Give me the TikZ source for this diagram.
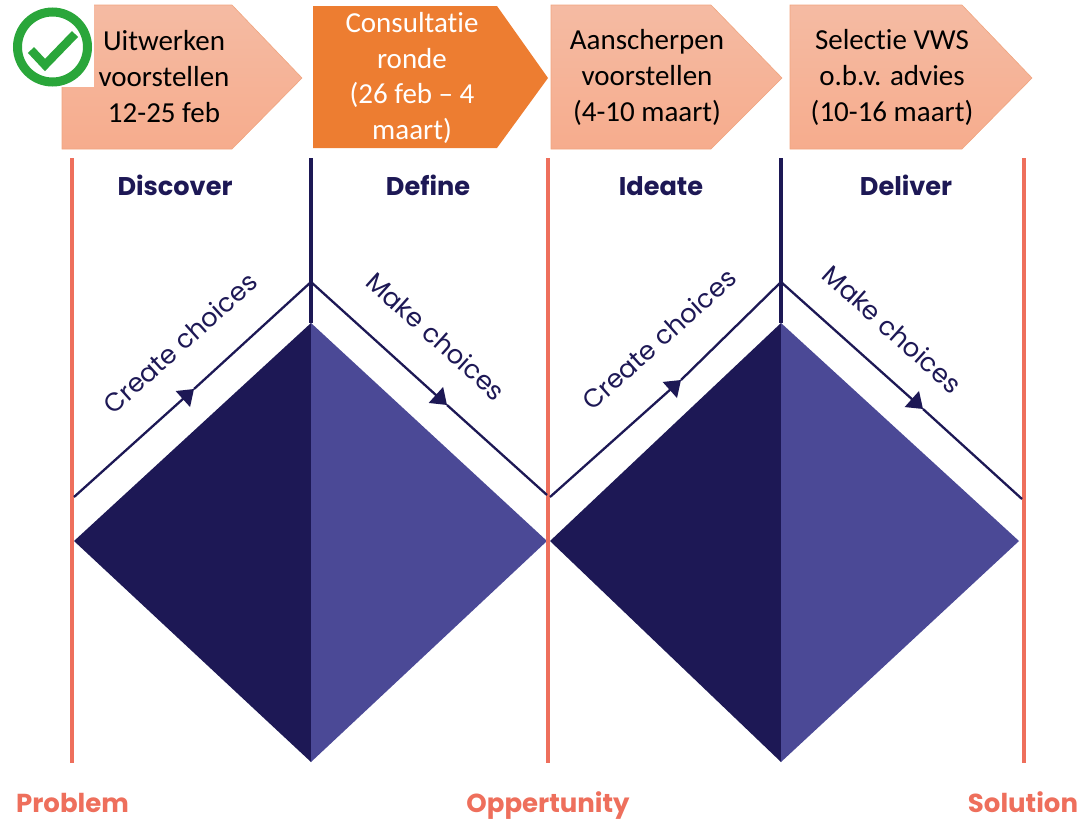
\documentclass[tikz,border=0pt]{standalone}
\usepackage{fontspec}
\setmainfont[Ligatures=NoCommon]{Carlito}
\newfontfamily\pop{Poppins}
\usetikzlibrary{arrows.meta}
\definecolor{navy}{HTML}{1D1855}
\definecolor{violet}{HTML}{4B4996}
\definecolor{coral}{HTML}{EE6F5C}
\definecolor{peachtop}{HTML}{F5BBA3}
\definecolor{peachbot}{HTML}{F6AC8D}
\definecolor{peachline}{HTML}{F0A57F}
\definecolor{orangef}{HTML}{ED7D31}
\definecolor{okgreen}{HTML}{2AA63A}
\tikzset{
 x=1pt,y=-1pt,
 stage/.style={top color=peachtop,bottom color=peachbot,draw=peachline,line width=.6pt},
 stagetext/.style={font=\fontsize{29}{36}\selectfont,align=center,text=black,inner sep=0pt},
 redline/.style={draw=coral,line width=3.2pt},
 navyline/.style={draw=navy,line width=3.2pt},
 slope/.style={draw=navy,line width=2.3pt},
 tipped/.style={slope,-{Triangle[length=15pt,width=21pt]}},
 phase/.style={font=\pop\bfseries\fontsize{25.6}{28}\selectfont,text=navy,inner sep=0pt,anchor=base},
 outcome/.style={font=\pop\bfseries\fontsize{26}{28}\selectfont,text=coral,inner sep=0pt,anchor=base},
 slabel/.style={font=\pop\fontsize{25.8}{28}\selectfont,text=navy,inner sep=0pt},
}
\begin{document}
\begin{tikzpicture}
\useasboundingbox (0,0) rectangle (1084,820);
% stage arrows
\path[stage] (62,5) -- (232,5) -- (302,78) -- (232,149) -- (62,149) -- cycle;
\fill[white] (0,0) rectangle (94,87);
\path[fill=orangef] (313,6) -- (497,6) -- (548,78) -- (497,148) -- (313,148) -- cycle;
\path[stage] (551,5) -- (711,5) -- (782,78) -- (711,149) -- (551,149) -- cycle;
\path[stage] (790,5) -- (962,5) -- (1032,78) -- (962,149) -- (790,149) -- cycle;
\node[stagetext] (s1) at (164,77) {Uitwerken\\voorstellen\\12-25 feb};
\node[stagetext,text=white,font=\fontsize{29}{35.7}\selectfont] (s2) at (412,78) {Consultatie\\ronde\\(26 feb -- 4\\maart)};
\node[stagetext] (s3) at (647,77) {Aanscherpen\\voorstellen\\(4-10 maart)};
\node[stagetext] (s4) at (892,77) {Selectie VWS\\o.b.v. advies\\(10-16 maart)};
% check badge
\node[draw=okgreen,line width=9pt,circle,minimum size=70pt,inner sep=0pt] (badge) at (52.5,47) {};
\draw[okgreen,line width=8.5pt] (31,50) -- (45,65) -- (75,34);
% diamonds
\coordinate (d1l) at (74,541); \coordinate (d1t) at (311,323); \coordinate (d1b) at (311,762); \coordinate (d1r) at (547,541);
\coordinate (d2l) at (550,541); \coordinate (d2t) at (781,323); \coordinate (d2b) at (781,762); \coordinate (d2r) at (1019,541);
\fill[navy] (d1l) -- (d1t) -- (d1b) -- cycle;
\fill[violet] (d1t) -- (d1r) -- (d1b) -- cycle;
\fill[navy] (d2l) -- (d2t) -- (d2b) -- cycle;
\fill[violet] (d2t) -- (d2r) -- (d2b) -- cycle;
% verticals
\coordinate (r1t) at (72,158); \coordinate (r1b) at (72,763);
\coordinate (n1t) at (311,158);
\coordinate (r2t) at (548,158); \coordinate (r2b) at (548,763);
\coordinate (n2t) at (781,158);
\coordinate (r3t) at (1024,158); \coordinate (r3b) at (1024,763);
\draw[redline] (r1t) -- (r1b);
\draw[redline] (r2t) -- (r2b);
\draw[redline] (r3t) -- (r3b);
\draw[navyline] (n1t) -- (d1t);
\draw[navyline] (n2t) -- (d2t);
% slopes
\coordinate (a1) at (74,497); \coordinate (m1) at (194,389); \coordinate (p1) at (311,282);
\coordinate (m2) at (447,405); \coordinate (e2) at (547,495);
\coordinate (a2) at (550,497); \coordinate (m3) at (681,380); \coordinate (p2) at (781,282);
\coordinate (m4) at (923,409); \coordinate (e4) at (1022,499);
\draw[tipped] (a1) -- (m1); \draw[slope] (m1) -- (p1);
\draw[tipped] (p1) -- (m2); \draw[slope] (m2) -- (e2);
\draw[tipped] (a2) -- (m3); \draw[slope] (m3) -- (p2);
\draw[tipped] (p2) -- (m4); \draw[slope] (m4) -- (e4);
% labels
\node[phase] (l1) at (175,195) {Discover};
\node[phase] (l2) at (428,195) {Define};
\node[phase] (l3) at (661,195) {Ideate};
\node[phase] (l4) at (906,195) {Deliver};
\node[slabel,rotate=42] (c1) at (180,343) {Create choices};
\node[slabel,rotate=-42] (c2) at (436,336) {Make choices};
\node[slabel,rotate=42] (c3) at (659,339) {Create choices};
\node[slabel,rotate=-42] (c4) at (892.5,329) {Make choices};
\node[outcome] (o1) at (72.5,812) {Problem};
\node[outcome] (o2) at (548,812) {Oppertunity};
\node[outcome] (o3) at (1023,812) {Solution};
\end{tikzpicture}
\end{document}
